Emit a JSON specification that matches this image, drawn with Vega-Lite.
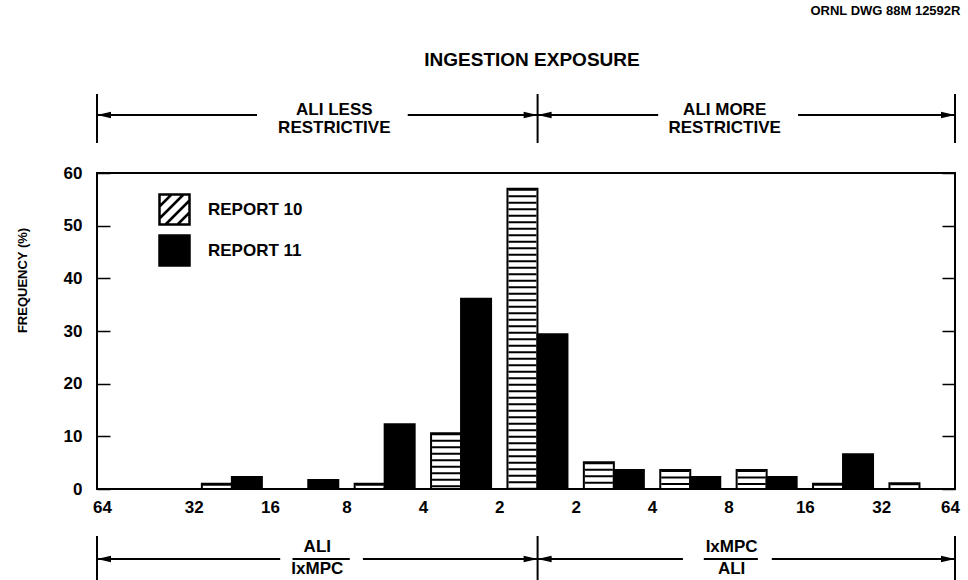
{
  "$schema": "https://vega.github.io/schema/vega-lite/v6.json",
  "autosize": {"type": "pad"},
  "padding": {"left": 15, "top": 5, "right": 0, "bottom": 0},
  "bounds": "flush",
  "spacing": 30,
  "title": {"text": "ORNL DWG 88M 12592R", "anchor": "end", "fontSize": 13, "fontWeight": "bold", "baseline": "alphabetic", "offset": 23, "color": "black"},
  "config": {"font": "Liberation Sans", "view": {"stroke": null}, "title": {"color": "black"}},
  "datasets": {
    "freq": [
      {"group": -5, "range": "64-32", "report": "REPORT 10", "freq": 0},
      {"group": -5, "range": "64-32", "report": "REPORT 11", "freq": 0},
      {"group": -4, "range": "32-16", "report": "REPORT 10", "freq": 1.0},
      {"group": -4, "range": "32-16", "report": "REPORT 11", "freq": 2.3},
      {"group": -3, "range": "16-8", "report": "REPORT 10", "freq": 0},
      {"group": -3, "range": "16-8", "report": "REPORT 11", "freq": 1.7},
      {"group": -2, "range": "8-4", "report": "REPORT 10", "freq": 1.0},
      {"group": -2, "range": "8-4", "report": "REPORT 11", "freq": 12.3},
      {"group": -1, "range": "4-2", "report": "REPORT 10", "freq": 10.6},
      {"group": -1, "range": "4-2", "report": "REPORT 11", "freq": 36.1},
      {"group": 0, "range": "2-2", "report": "REPORT 10", "freq": 57.0},
      {"group": 0, "range": "2-2", "report": "REPORT 11", "freq": 29.4},
      {"group": 1, "range": "2-4", "report": "REPORT 10", "freq": 5.1},
      {"group": 1, "range": "2-4", "report": "REPORT 11", "freq": 3.6},
      {"group": 2, "range": "4-8", "report": "REPORT 10", "freq": 3.6},
      {"group": 2, "range": "4-8", "report": "REPORT 11", "freq": 2.3},
      {"group": 3, "range": "8-16", "report": "REPORT 10", "freq": 3.6},
      {"group": 3, "range": "8-16", "report": "REPORT 11", "freq": 2.3},
      {"group": 4, "range": "16-32", "report": "REPORT 10", "freq": 1.0},
      {"group": 4, "range": "16-32", "report": "REPORT 11", "freq": 6.6},
      {"group": 5, "range": "32-64", "report": "REPORT 10", "freq": 1.1},
      {"group": 5, "range": "32-64", "report": "REPORT 11", "freq": 0}
    ]
  },
  "vconcat": [
    {
      "width": 858,
      "height": 49,
      "view": {"stroke": null},
      "data": {"values": [{}]},
      "title": {"text": "INGESTION EXPOSURE", "fontSize": 19, "fontWeight": "bold", "baseline": "alphabetic", "offset": 8, "dx": 6, "anchor": "middle", "frame": "group"},
      "layer": [
        {"mark": {"type": "rule", "color": "black", "strokeWidth": 2}, "encoding": {
          "x": {"datum": -5.7, "type": "quantitative", "scale": {"domain": [-5.7, 5.4], "nice": false}, "axis": null},
          "y": {"datum": 0, "type": "quantitative", "scale": {"domain": [0, 1], "nice": false}, "axis": null}, "y2": {"datum": 1}}},
        {"mark": {"type": "rule", "color": "black", "strokeWidth": 2}, "encoding": {
          "x": {"datum": 0, "type": "quantitative", "scale": {"domain": [-5.7, 5.4], "nice": false}, "axis": null},
          "y": {"datum": 0, "type": "quantitative", "scale": {"domain": [0, 1], "nice": false}, "axis": null}, "y2": {"datum": 1}}},
        {"mark": {"type": "rule", "color": "black", "strokeWidth": 2}, "encoding": {
          "x": {"datum": 5.4, "type": "quantitative", "scale": {"domain": [-5.7, 5.4], "nice": false}, "axis": null},
          "y": {"datum": 0, "type": "quantitative", "scale": {"domain": [0, 1], "nice": false}, "axis": null}, "y2": {"datum": 1}}},
        {"mark": {"type": "rule", "color": "black", "strokeWidth": 2}, "encoding": {
          "x": {"datum": -5.7, "type": "quantitative", "scale": {"domain": [-5.7, 5.4], "nice": false}, "axis": null}, "x2": {"datum": -3.63},
          "y": {"datum": 0.571, "type": "quantitative", "scale": {"domain": [0, 1], "nice": false}, "axis": null}}},
        {"mark": {"type": "rule", "color": "black", "strokeWidth": 2}, "encoding": {
          "x": {"datum": -1.68, "type": "quantitative", "scale": {"domain": [-5.7, 5.4], "nice": false}, "axis": null}, "x2": {"datum": 0},
          "y": {"datum": 0.571, "type": "quantitative", "scale": {"domain": [0, 1], "nice": false}, "axis": null}}},
        {"mark": {"type": "rule", "color": "black", "strokeWidth": 2}, "encoding": {
          "x": {"datum": 0, "type": "quantitative", "scale": {"domain": [-5.7, 5.4], "nice": false}, "axis": null}, "x2": {"datum": 1.56},
          "y": {"datum": 0.571, "type": "quantitative", "scale": {"domain": [0, 1], "nice": false}, "axis": null}}},
        {"mark": {"type": "rule", "color": "black", "strokeWidth": 2}, "encoding": {
          "x": {"datum": 3.37, "type": "quantitative", "scale": {"domain": [-5.7, 5.4], "nice": false}, "axis": null}, "x2": {"datum": 5.4},
          "y": {"datum": 0.571, "type": "quantitative", "scale": {"domain": [0, 1], "nice": false}, "axis": null}}},
        {"mark": {"type": "point", "shape": "M0,0L2,-0.45L2,0.45Z", "size": 196, "filled": true, "color": "black", "opacity": 1}, "encoding": {
          "x": {"datum": -5.7, "type": "quantitative", "scale": {"domain": [-5.7, 5.4], "nice": false}, "axis": null},
          "y": {"datum": 0.571, "type": "quantitative", "scale": {"domain": [0, 1], "nice": false}, "axis": null}}},
        {"mark": {"type": "point", "shape": "M0,0L-2,-0.45L-2,0.45Z", "size": 196, "filled": true, "color": "black", "opacity": 1}, "encoding": {
          "x": {"datum": 0, "type": "quantitative", "scale": {"domain": [-5.7, 5.4], "nice": false}, "axis": null},
          "y": {"datum": 0.571, "type": "quantitative", "scale": {"domain": [0, 1], "nice": false}, "axis": null}}},
        {"mark": {"type": "point", "shape": "M0,0L2,-0.45L2,0.45Z", "size": 196, "filled": true, "color": "black", "opacity": 1}, "encoding": {
          "x": {"datum": 0, "type": "quantitative", "scale": {"domain": [-5.7, 5.4], "nice": false}, "axis": null},
          "y": {"datum": 0.571, "type": "quantitative", "scale": {"domain": [0, 1], "nice": false}, "axis": null}}},
        {"mark": {"type": "point", "shape": "M0,0L-2,-0.45L-2,0.45Z", "size": 196, "filled": true, "color": "black", "opacity": 1}, "encoding": {
          "x": {"datum": 5.4, "type": "quantitative", "scale": {"domain": [-5.7, 5.4], "nice": false}, "axis": null},
          "y": {"datum": 0.571, "type": "quantitative", "scale": {"domain": [0, 1], "nice": false}, "axis": null}}},
        {"mark": {"type": "text", "text": "ALI LESS", "fontSize": 17, "fontWeight": "bold", "color": "black", "baseline": "middle", "align": "center"}, "encoding": {
          "x": {"datum": -2.63, "type": "quantitative", "scale": {"domain": [-5.7, 5.4], "nice": false}, "axis": null},
          "y": {"datum": 0.673, "type": "quantitative", "scale": {"domain": [0, 1], "nice": false}, "axis": null}}},
        {"mark": {"type": "text", "text": "RESTRICTIVE", "fontSize": 17, "fontWeight": "bold", "color": "black", "baseline": "middle", "align": "center"}, "encoding": {
          "x": {"datum": -2.63, "type": "quantitative", "scale": {"domain": [-5.7, 5.4], "nice": false}, "axis": null},
          "y": {"datum": 0.306, "type": "quantitative", "scale": {"domain": [0, 1], "nice": false}, "axis": null}}},
        {"mark": {"type": "text", "text": "ALI MORE", "fontSize": 17, "fontWeight": "bold", "color": "black", "baseline": "middle", "align": "center"}, "encoding": {
          "x": {"datum": 2.42, "type": "quantitative", "scale": {"domain": [-5.7, 5.4], "nice": false}, "axis": null},
          "y": {"datum": 0.673, "type": "quantitative", "scale": {"domain": [0, 1], "nice": false}, "axis": null}}},
        {"mark": {"type": "text", "text": "RESTRICTIVE", "fontSize": 17, "fontWeight": "bold", "color": "black", "baseline": "middle", "align": "center"}, "encoding": {
          "x": {"datum": 2.42, "type": "quantitative", "scale": {"domain": [-5.7, 5.4], "nice": false}, "axis": null},
          "y": {"datum": 0.306, "type": "quantitative", "scale": {"domain": [0, 1], "nice": false}, "axis": null}}}
      ]
    },
    {
      "width": 858,
      "height": 316,
      "view": {"stroke": "black", "strokeWidth": 2},
      "data": {"name": "freq"},
      "encoding": {
        "x": {"field": "group", "type": "quantitative", "scale": {"domain": [-5.7, 5.4], "nice": false},
          "axis": {"values": [-5.7, -4.5, -3.5, -2.5, -1.5, -0.5, 0.5, 1.5, 2.5, 3.5, 4.5, 5.4], "labelExpr": "'' + pow(2, floor(abs(datum.value)) + 1)", "ticks": false, "domain": false, "grid": false, "title": null, "labelFontSize": 17, "labelFontWeight": "bold", "labelColor": "black", "labelPadding": 10, "labelFlush": false, "labelOverlap": false, "labelBound": false}}
      },
      "layer": [
        {
          "transform": [{"filter": "datum.report == 'REPORT 10'"}],
          "mark": {"type": "bar", "width": 30, "xOffset": -15, "stroke": "black", "strokeWidth": 2},
          "encoding": {
            "y": {"field": "freq", "type": "quantitative", "scale": {"domain": [0, 60], "nice": false},
              "axis": {"values": [0, 10, 20, 30, 40, 50, 60], "title": "FREQUENCY (%)", "titleFontSize": 13, "titleFontWeight": "bold", "titleColor": "black", "titleX": -75, "titleY": 107, "titleAngle": 270, "titleAlign": "center", "titleBaseline": "middle", "labelFontSize": 17, "labelFontWeight": "bold", "labelColor": "black", "tickSize": -13, "tickWidth": 1.5, "tickColor": "black", "domain": false, "grid": false, "labelPadding": 28}},
            "fill": {"field": "report", "type": "nominal", "scale": {"domain": ["REPORT 10", "REPORT 11"], "range": ["white", "black"]},
              "legend": {"title": null, "orient": "none", "legendX": 61, "legendY": 99, "padding": 0, "symbolType": "M-1,-1L1,-1L1,1L-1,1Z M-1,-0.2L-0.2,-1 M-1,0.6L0.6,-1 M-0.6,1L1,-0.6 M0.2,1L1,0.2", "symbolSize": 900, "symbolStrokeColor": "black", "symbolStrokeWidth": 2.5, "symbolOpacity": 1, "labelFontSize": 17, "labelFontWeight": "bold", "labelColor": "black", "labelOffset": 17, "rowPadding": 0}}
          }
        },
        {
          "transform": [{"filter": "datum.report == 'REPORT 10'"}],
          "mark": {"type": "rule", "color": "black", "strokeWidth": 28, "strokeDash": [2, 4.5], "xOffset": -15, "strokeCap": "butt"},
          "encoding": {
            "y": {"field": "freq", "type": "quantitative", "axis": null},
            "y2": {"datum": 0}
          }
        },
        {
          "transform": [{"filter": "datum.report == 'REPORT 11'"}],
          "mark": {"type": "bar", "width": 30, "xOffset": 15, "stroke": "black", "strokeWidth": 2},
          "encoding": {
            "y": {"field": "freq", "type": "quantitative",
              "axis": {"orient": "right", "values": [0, 10, 20, 30, 40, 50, 60], "labels": false, "title": null, "tickSize": -13, "tickWidth": 1.5, "tickColor": "black", "domain": false, "grid": false}},
            "fill": {"field": "report", "type": "nominal"}
          }
        }
      ],
      "resolve": {"axis": {"y": "independent"}}
    },
    {
      "width": 858,
      "height": 62,
      "view": {"stroke": null},
      "data": {"values": [{}]},
      "layer": [
        {"mark": {"type": "rule", "color": "black", "strokeWidth": 2}, "encoding": {
          "x": {"datum": -5.7, "type": "quantitative", "scale": {"domain": [-5.7, 5.4], "nice": false}, "axis": null},
          "y": {"datum": 0, "type": "quantitative", "scale": {"domain": [0, 1], "nice": false}, "axis": null}, "y2": {"datum": 0.726}}},
        {"mark": {"type": "rule", "color": "black", "strokeWidth": 2}, "encoding": {
          "x": {"datum": 0, "type": "quantitative", "scale": {"domain": [-5.7, 5.4], "nice": false}, "axis": null},
          "y": {"datum": 0, "type": "quantitative", "scale": {"domain": [0, 1], "nice": false}, "axis": null}, "y2": {"datum": 0.726}}},
        {"mark": {"type": "rule", "color": "black", "strokeWidth": 2}, "encoding": {
          "x": {"datum": 5.4, "type": "quantitative", "scale": {"domain": [-5.7, 5.4], "nice": false}, "axis": null},
          "y": {"datum": 0, "type": "quantitative", "scale": {"domain": [0, 1], "nice": false}, "axis": null}, "y2": {"datum": 0.726}}},
        {"mark": {"type": "rule", "color": "black", "strokeWidth": 2}, "encoding": {
          "x": {"datum": -5.7, "type": "quantitative", "scale": {"domain": [-5.7, 5.4], "nice": false}, "axis": null}, "x2": {"datum": -3.33},
          "y": {"datum": 0.355, "type": "quantitative", "scale": {"domain": [0, 1], "nice": false}, "axis": null}}},
        {"mark": {"type": "rule", "color": "black", "strokeWidth": 2}, "encoding": {
          "x": {"datum": -2.26, "type": "quantitative", "scale": {"domain": [-5.7, 5.4], "nice": false}, "axis": null}, "x2": {"datum": 0},
          "y": {"datum": 0.355, "type": "quantitative", "scale": {"domain": [0, 1], "nice": false}, "axis": null}}},
        {"mark": {"type": "rule", "color": "black", "strokeWidth": 2}, "encoding": {
          "x": {"datum": 0, "type": "quantitative", "scale": {"domain": [-5.7, 5.4], "nice": false}, "axis": null}, "x2": {"datum": 1.88},
          "y": {"datum": 0.355, "type": "quantitative", "scale": {"domain": [0, 1], "nice": false}, "axis": null}}},
        {"mark": {"type": "rule", "color": "black", "strokeWidth": 2}, "encoding": {
          "x": {"datum": 3.03, "type": "quantitative", "scale": {"domain": [-5.7, 5.4], "nice": false}, "axis": null}, "x2": {"datum": 5.4},
          "y": {"datum": 0.355, "type": "quantitative", "scale": {"domain": [0, 1], "nice": false}, "axis": null}}},
        {"mark": {"type": "rule", "color": "black", "strokeWidth": 2}, "encoding": {
          "x": {"datum": -3.17, "type": "quantitative", "scale": {"domain": [-5.7, 5.4], "nice": false}, "axis": null}, "x2": {"datum": -2.43},
          "y": {"datum": 0.355, "type": "quantitative", "scale": {"domain": [0, 1], "nice": false}, "axis": null}}},
        {"mark": {"type": "rule", "color": "black", "strokeWidth": 2}, "encoding": {
          "x": {"datum": 2.15, "type": "quantitative", "scale": {"domain": [-5.7, 5.4], "nice": false}, "axis": null}, "x2": {"datum": 2.85},
          "y": {"datum": 0.355, "type": "quantitative", "scale": {"domain": [0, 1], "nice": false}, "axis": null}}},
        {"mark": {"type": "point", "shape": "M0,0L2,-0.45L2,0.45Z", "size": 196, "filled": true, "color": "black", "opacity": 1}, "encoding": {
          "x": {"datum": -5.7, "type": "quantitative", "scale": {"domain": [-5.7, 5.4], "nice": false}, "axis": null},
          "y": {"datum": 0.355, "type": "quantitative", "scale": {"domain": [0, 1], "nice": false}, "axis": null}}},
        {"mark": {"type": "point", "shape": "M0,0L-2,-0.45L-2,0.45Z", "size": 196, "filled": true, "color": "black", "opacity": 1}, "encoding": {
          "x": {"datum": 0, "type": "quantitative", "scale": {"domain": [-5.7, 5.4], "nice": false}, "axis": null},
          "y": {"datum": 0.355, "type": "quantitative", "scale": {"domain": [0, 1], "nice": false}, "axis": null}}},
        {"mark": {"type": "point", "shape": "M0,0L2,-0.45L2,0.45Z", "size": 196, "filled": true, "color": "black", "opacity": 1}, "encoding": {
          "x": {"datum": 0, "type": "quantitative", "scale": {"domain": [-5.7, 5.4], "nice": false}, "axis": null},
          "y": {"datum": 0.355, "type": "quantitative", "scale": {"domain": [0, 1], "nice": false}, "axis": null}}},
        {"mark": {"type": "point", "shape": "M0,0L-2,-0.45L-2,0.45Z", "size": 196, "filled": true, "color": "black", "opacity": 1}, "encoding": {
          "x": {"datum": 5.4, "type": "quantitative", "scale": {"domain": [-5.7, 5.4], "nice": false}, "axis": null},
          "y": {"datum": 0.355, "type": "quantitative", "scale": {"domain": [0, 1], "nice": false}, "axis": null}}},
        {"mark": {"type": "text", "text": "ALI", "fontSize": 17, "fontWeight": "bold", "color": "black", "baseline": "middle", "align": "center"}, "encoding": {
          "x": {"datum": -2.85, "type": "quantitative", "scale": {"domain": [-5.7, 5.4], "nice": false}, "axis": null},
          "y": {"datum": 0.55, "type": "quantitative", "scale": {"domain": [0, 1], "nice": false}, "axis": null}}},
        {"mark": {"type": "text", "text": "IxMPC", "fontSize": 17, "fontWeight": "bold", "color": "black", "baseline": "middle", "align": "center"}, "encoding": {
          "x": {"datum": -2.85, "type": "quantitative", "scale": {"domain": [-5.7, 5.4], "nice": false}, "axis": null},
          "y": {"datum": 0.19, "type": "quantitative", "scale": {"domain": [0, 1], "nice": false}, "axis": null}}},
        {"mark": {"type": "text", "text": "IxMPC", "fontSize": 17, "fontWeight": "bold", "color": "black", "baseline": "middle", "align": "center"}, "encoding": {
          "x": {"datum": 2.51, "type": "quantitative", "scale": {"domain": [-5.7, 5.4], "nice": false}, "axis": null},
          "y": {"datum": 0.55, "type": "quantitative", "scale": {"domain": [0, 1], "nice": false}, "axis": null}}},
        {"mark": {"type": "text", "text": "ALI", "fontSize": 17, "fontWeight": "bold", "color": "black", "baseline": "middle", "align": "center"}, "encoding": {
          "x": {"datum": 2.51, "type": "quantitative", "scale": {"domain": [-5.7, 5.4], "nice": false}, "axis": null},
          "y": {"datum": 0.19, "type": "quantitative", "scale": {"domain": [0, 1], "nice": false}, "axis": null}}}
      ]
    }
  ]
}
